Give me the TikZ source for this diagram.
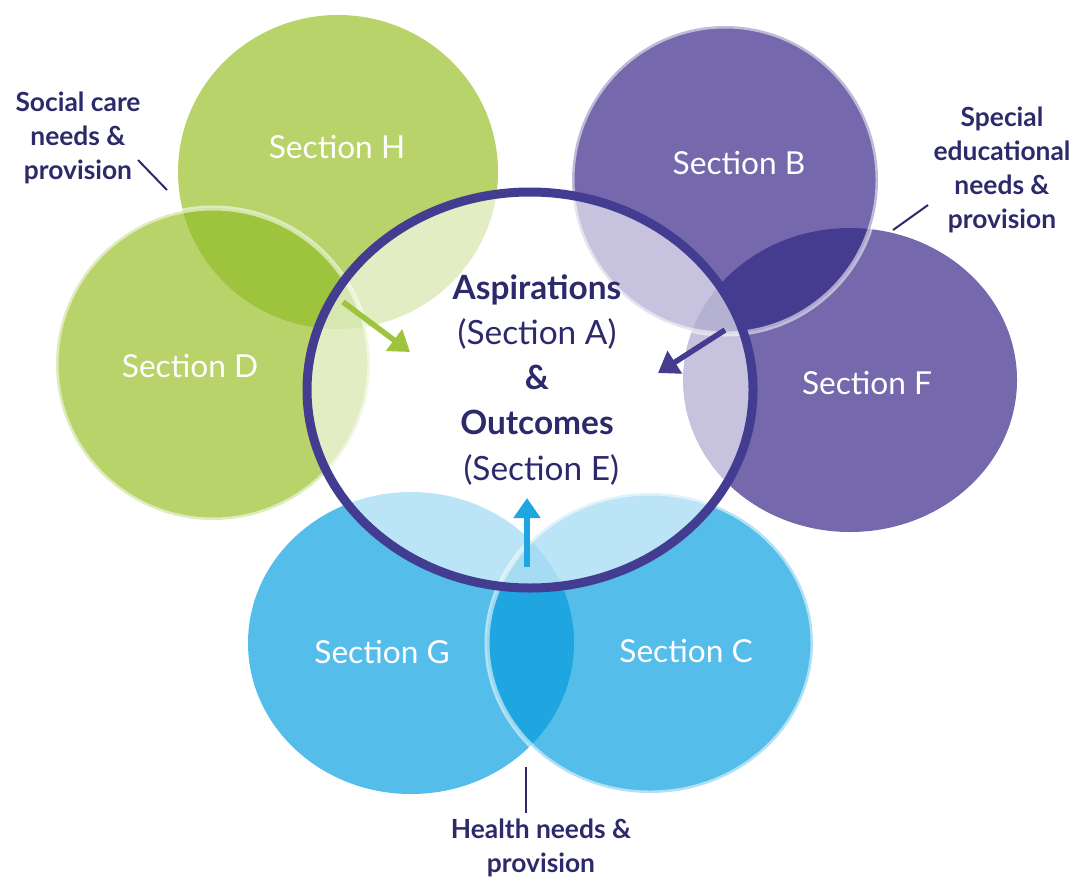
\documentclass[tikz,border=0pt]{standalone}
\usepackage{fontspec}
\setmainfont{Lato}
\usetikzlibrary{arrows.meta}

\definecolor{leafgreen}{HTML}{B8D36A}
\definecolor{leafdark}{HTML}{9DC43C}
\definecolor{plum}{HTML}{7568AC}
\definecolor{plumdark}{HTML}{463C8F}
\definecolor{sky}{HTML}{55BDEA}
\definecolor{skydark}{HTML}{1FA6E1}
\definecolor{rimcol}{HTML}{433D91}
\definecolor{navy}{HTML}{2D2A6B}

\tikzset{
  sectxt/.style={text=white, font=\fontsize{9}{10}\selectfont},
  ring/.style={draw=white, draw opacity=0.55, line width=0.05cm},
  lbl/.style={text=navy, font=\bfseries\fontsize{7.5}{9.7}\selectfont, align=center},
  leader/.style={draw=navy, line width=0.02cm},
  flow/.style={line width=0.055cm, -{Triangle[width=0.26cm,length=0.2cm]}},
}

\begin{document}
\begin{tikzpicture}[x=0.01cm, y=-0.01cm]
	\useasboundingbox (0,0) rectangle (1071,876);

	% the six sections
	\foreach \cx/\cy/\rx/\ry/\col in {338/172/160/157/leafgreen, 213/364/157/156/leafgreen,
			850/380/167/152/plum, 725/180/153/154/plum,
			411/643/163/151/sky, 650/643/163/150/sky}
		\fill[\col] (\cx,\cy) ellipse [x radius=\rx, y radius=\ry];

	% overlaps
	\begin{scope}
		\clip (338,172) ellipse [x radius=160, y radius=157];
		\fill[leafdark] (213,364) ellipse [x radius=157, y radius=156];
	\end{scope}
	\begin{scope}
		\clip (850,380) ellipse [x radius=167, y radius=152];
		\fill[plumdark] (725,180) ellipse [x radius=153, y radius=154];
	\end{scope}
	\begin{scope}
		\clip (411,643) ellipse [x radius=163, y radius=151];
		\fill[skydark] (650,643) ellipse [x radius=163, y radius=150];
	\end{scope}

	\draw[ring] (213,364) ellipse [x radius=157, y radius=156];
	\draw[ring] (725,180) ellipse [x radius=153, y radius=154];
	\draw[ring] (650,643) ellipse [x radius=163, y radius=150];

	% centre
	\fill[white, fill opacity=0.6] (530,390) ellipse [x radius=223, y radius=198];
	\draw[rimcol, line width=0.09cm] (530,390) ellipse [x radius=223, y radius=198];

	\node[sectxt] (secH) at (337,147) {Section H};
	\node[sectxt] (secD) at (190,366) {Section D};
	\node[sectxt] (secB) at (739,163) {Section B};
	\node[sectxt] (secF) at (867,383) {Section F};
	\node[sectxt] (secG) at (382,652) {Section G};
	\node[sectxt] (secC) at (686,651) {Section C};

	\node[text=navy, align=center, font=\fontsize{9.5}{12.8}\selectfont] (core) at (537,380)
		{\textbf{Aspirations}\\(Section A)\\\textbf{\&}\\\textbf{Outcomes}\\\ (Section E)};

	% arrows into the centre
	\coordinate (gfrom) at (343,302);
	\coordinate (gto) at (410,352);
	\coordinate (pfrom) at (725,330);
	\coordinate (pto) at (658,373);
	\coordinate (bfrom) at (527,567);
	\coordinate (bto) at (527,498);
	\draw[flow, leafdark] (gfrom) -- (gto);
	\draw[flow, plumdark] (pfrom) -- (pto);
	\draw[flow, skydark] (bfrom) -- (bto);

	% outside labels
	\node[lbl] (social) at (78,138) {Social care\\needs \&\\provision};
	\node[lbl] (special) at (1002,170) {Special\\educational\\needs \&\\provision};
	\node[lbl] (health) at (541,848) {Health needs \&\\provision};

	\coordinate (s1) at (138,160);
	\coordinate (s2) at (167,190);
	\coordinate (e1) at (928,205);
	\coordinate (e2) at (893,230);
	\coordinate (h1) at (526,767);
	\coordinate (h2) at (526,813);
	\draw[leader] (s1) -- (s2);
	\draw[leader] (e1) -- (e2);
	\draw[leader] (h1) -- (h2);
\end{tikzpicture}
\end{document}
